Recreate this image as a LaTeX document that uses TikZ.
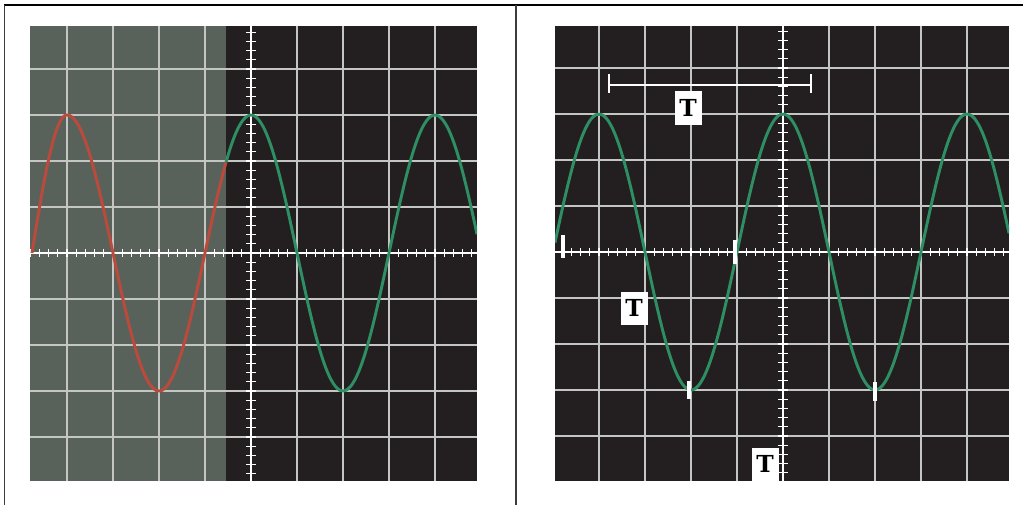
\documentclass[tikz,border=0pt]{standalone}
\usepackage{tikz}
\usepackage{fontspec}
\newfontfamily\tfont{DejaVu Serif}
\definecolor{screenbg}{RGB}{35, 31, 32}
\definecolor{shadebg}{RGB}{89, 98, 90}
\definecolor{gridgray}{RGB}{196, 198, 196}
\definecolor{wavegreen}{RGB}{46, 142, 100}
\definecolor{wavered}{RGB}{188, 74, 60}
\definecolor{framegray}{RGB}{60, 60, 60}

\tikzset{
  gridline/.style={gridgray, line width=1.5pt},
  axisline/.style={white, line width=1.9pt},
  tickmark/.style={white, line width=0.9pt},
  wave/.style={line width=2.5pt, samples=120, smooth},
  marker/.style={white, line width=3pt},
  tlabel/.style={fill=white, inner sep=0pt, minimum width=0.81cm, minimum height=0.99cm,
    font=\tfont\bfseries\fontsize{20}{21}\selectfont}
}

\begin{document}
\begin{tikzpicture}[x=0.03cm, y=-0.03cm]
    \useasboundingbox (0,0) rectangle (1023,505);

    % Frame
    \draw[black, line width=1.2pt] (4,5) -- (1023,5);
    \draw[framegray, line width=1.2pt] (4.5,5) -- (4.5,505);
    \draw[framegray, line width=1.2pt] (516,5) -- (516,505);

    % Left screen
    \begin{scope}[shift={(251,253)}]
        \fill[screenbg] (-221,-227) rectangle (226,228);
        \fill[shadebg] (-221,-227) rectangle (-25,228);
        \clip (-221,-227) rectangle (226,228);
        \foreach \k in {-4,...,4} {
            \draw[gridline] (\k*46,-227) -- (\k*46,228);
            \draw[gridline] (-221,\k*46) -- (226,\k*46);
        }
        % Axes with ticks
        \draw[axisline] (0,-227) -- (0,228);
        \draw[axisline] (-221,0) -- (226,0);
        \foreach \k in {-25,...,25} {
            \draw[tickmark] (-5,\k*9.2) -- (5,\k*9.2);
            \draw[tickmark] (\k*9.2,-4) -- (\k*9.2,4);
        }
        % Traces
        \draw[wave, wavered, domain=-219:-184] plot (\x, {-138*sin(2.5714*(\x+219))});
        \draw[wave, wavered, domain=-184:-25] plot (\x, {-138*cos(1.95652*\x)});
        \draw[wave, wavegreen, domain=-25:226] plot (\x, {-138*cos(1.95652*\x)});
    \end{scope}

    % Right screen
    \begin{scope}[shift={(783,252)}]
        \fill[screenbg] (-228,-226) rectangle (226,229);
        \begin{scope}
            \clip (-228,-226) rectangle (226,229);
            \foreach \k in {-4,...,4} {
                \draw[gridline] (\k*46,-226) -- (\k*46,229);
                \draw[gridline] (-228,\k*46) -- (226,\k*46);
            }
            % Axes with ticks
            \draw[axisline] (0,-226) -- (0,229);
            \draw[axisline] (-228,0) -- (226,0);
            \foreach \k in {-25,...,25} {
                \draw[tickmark] (-5,\k*9.2) -- (5,\k*9.2);
                \draw[tickmark] (\k*9.2,-4) -- (\k*9.2,4);
            }
            % Trace
            \draw[wave, wavegreen, domain=-228:226] plot (\x, {-138*cos(1.95652*\x)});
        \end{scope}

        % Markers
        \draw[marker] (-220,-17) -- (-220,6);
        \draw[marker] (-48,-12) -- (-48,12);
        \draw[marker] (-94,129) -- (-94,147);
        \draw[marker] (92,130) -- (92,149);

        % Period bracket
        \coordinate (bl) at (-174,-167);
        \coordinate (br) at (28,-167);
        \draw[white, line width=1.8pt] (bl) -- (br);
        \draw[white, line width=1.8pt] ([yshift=0.33cm]bl) -- ([yshift=-0.24cm]bl);
        \draw[white, line width=1.8pt] ([yshift=0.33cm]br) -- ([yshift=-0.24cm]br);

        % Labels
        \node[tlabel] (tTop) at (-95,-144) {T};
        \node[tlabel] (tMid) at (-149,56) {T};
        \node[tlabel] (tBot) at (-18,212) {T};
    \end{scope}
\end{tikzpicture}
\end{document}
